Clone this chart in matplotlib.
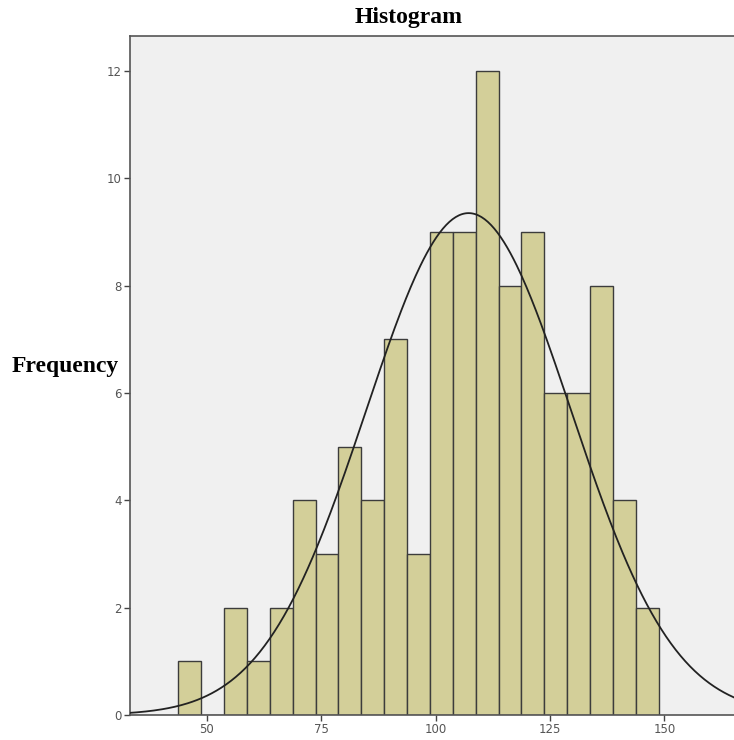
"""SPSS-style histogram with fitted normal curve."""

import matplotlib

matplotlib.use("Agg")
import matplotlib.pyplot as plt
import numpy as np

# histogram bins (width 5) and counts
BIN_START = 43.75
BIN_WIDTH = 5.0
COUNTS = [1, 0, 2, 1, 2, 4, 3, 5, 4, 7, 3, 9, 9, 12, 8, 9, 6, 6, 8, 4, 2]

# fitted normal curve parameters
MEAN = 107.2
SD = 22.4

X_TICKS = [50, 75, 100, 125, 150]
Y_TICKS = [0, 2, 4, 6, 8, 10, 12]

BAR_COLOR = "#d3cf99"
EDGE_COLOR = "#3c3c3c"
PANEL_COLOR = "#f0f0f0"


def main() -> None:
    counts = np.array(COUNTS)
    lefts = BIN_START + BIN_WIDTH * np.arange(len(counts))
    n = counts.sum()

    fig = plt.figure(figsize=(7.34, 7.40), dpi=100)
    ax = fig.add_axes([130 / 734, 25 / 740, 604 / 734, 679 / 740])
    ax.set_facecolor(PANEL_COLOR)

    ax.bar(
        lefts,
        counts,
        width=BIN_WIDTH,
        align="edge",
        color=BAR_COLOR,
        edgecolor=EDGE_COLOR,
        linewidth=1.0,
        zorder=2,
    )

    xs = np.linspace(30, 170, 400)
    curve = n * BIN_WIDTH / (SD * np.sqrt(2 * np.pi)) * np.exp(-0.5 * ((xs - MEAN) / SD) ** 2)
    ax.plot(xs, curve, color="#222222", linewidth=1.3, zorder=3)

    ax.set_xlim(33.2, 165.2)
    ax.set_ylim(0, 12.65)
    ax.set_xticks(X_TICKS)
    ax.set_yticks(Y_TICKS)
    ax.tick_params(
        axis="both",
        direction="out",
        length=4,
        width=1,
        color="#444444",
        labelcolor="#555555",
        labelsize=8.5,
        pad=2,
    )
    for side in ("left", "bottom", "top"):
        ax.spines[side].set_color("#555555")
        ax.spines[side].set_linewidth(1.2)
    ax.spines["right"].set_visible(False)

    fig.text(
        409 / 734, 1 - 18 / 740, "Histogram",
        ha="center", va="center", fontsize=17, fontweight="bold",
        family="Liberation Serif",
    )
    fig.text(
        12 / 734, 1 - 367 / 740, "Frequency",
        ha="left", va="center", fontsize=17, fontweight="bold",
        family="Liberation Serif",
    )

    fig.savefig("out.png", dpi=100)
    plt.close(fig)


if __name__ == "__main__":
    main()
